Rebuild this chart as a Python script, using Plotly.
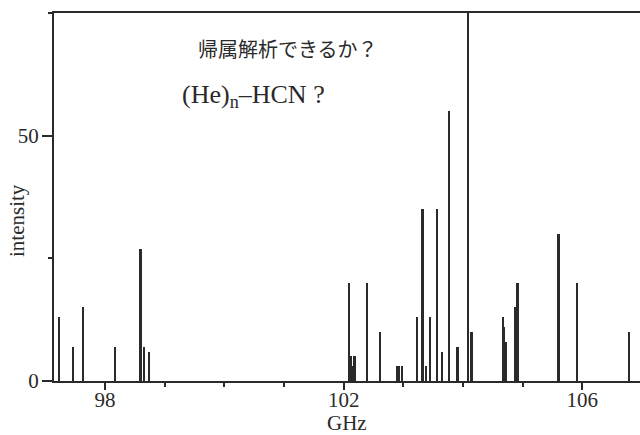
import plotly.graph_objects as go

freq_ghz = [97.234, 97.469, 97.636, 98.168, 98.598, 98.654, 98.743,
            102.095, 102.123, 102.152, 102.185, 102.397, 102.615,
            102.906, 102.928, 102.983,
            103.238, 103.325, 103.380, 103.456, 103.570, 103.649, 103.771, 103.912,
            104.085, 104.146,
            104.676, 104.696, 104.716, 104.884, 104.918,
            105.605, 105.917, 106.789]
intensity = [13, 7, 15, 7, 27, 7, 6,
             20, 5, 3, 5, 20, 10,
             3, 3, 3,
             13, 35, 3, 13, 35, 6, 55, 7,
             100, 10,
             13, 11, 8, 15, 20,
             30, 20, 10]

x_major_ticks = [98, 102, 106]
y_major_ticks = [0, 50]

title_jp = "帰属解析できるか？"
title_mol = "(He)<sub>n</sub>–HCN ?"
x_label = "GHz"
y_label = "intensity"

ink = "#2a2a2a"
serif = "Liberation Serif, Times New Roman, serif"

fig = go.Figure()
fig.add_trace(go.Bar(x=freq_ghz, y=intensity, width=0.032,
                     marker=dict(color=ink, line=dict(width=0))))

fig.update_layout(
    width=640, height=435,
    margin=dict(l=54, r=0, t=13, b=54),
    paper_bgcolor="white", plot_bgcolor="white",
    showlegend=False,
    bargap=0,
    font=dict(family=serif, color=ink, size=20),
)
fig.update_xaxes(
    range=[97.145, 106.967],
    tickvals=x_major_ticks, ticktext=[str(v) for v in x_major_ticks],
    ticks="outside", ticklen=7, tickwidth=2, tickcolor=ink,
    minor=dict(dtick=1, tick0=98, ticks="outside", ticklen=4, tickwidth=2, tickcolor=ink, showgrid=False),
    showline=True, linecolor=ink, linewidth=2, mirror=True,
    showgrid=False, zeroline=False,
    tickfont=dict(family=serif, size=21, color=ink),
    ticklabelstandoff=-8,
    automargin=False,
)
fig.update_yaxes(
    range=[0, 75],
    tickvals=y_major_ticks, ticktext=[str(v) for v in y_major_ticks],
    ticks="outside", ticklen=10, tickwidth=2, tickcolor=ink,
    minor=dict(dtick=25, tick0=0, ticks="outside", ticklen=4, tickwidth=2, tickcolor=ink, showgrid=False),
    showline=True, linecolor=ink, linewidth=2, mirror=False,
    showgrid=False, zeroline=False,
    tickfont=dict(family=serif, size=21, color=ink),
    ticklabelstandoff=-1,
    automargin=False,
)

# annotations placed in pixel coordinates (converted to paper coords below)
fig.add_annotation(text=title_jp, x=288, y=48, xanchor="center", yanchor="middle",
                   font=dict(family="Noto Sans CJK JP", size=20, color=ink))
fig.add_annotation(text=title_mol, x=180, y=96, xanchor="left", yanchor="middle",
                   font=dict(family=serif, size=26, color=ink))
fig.add_annotation(text=x_label, x=347, y=423, xanchor="center", yanchor="middle",
                   font=dict(family=serif, size=21, color=ink))
fig.add_annotation(text=y_label, x=17, y=221, xanchor="center", yanchor="middle",
                   textangle=-90, font=dict(family=serif, size=21, color=ink))

plot_w = 640 - 54
plot_h = 435 - 13 - 54
for ann in fig.layout.annotations:
    ann.xref = "paper"
    ann.yref = "paper"
    ann.showarrow = False
    ann.x = (ann.x - 54) / plot_w
    ann.y = 1 - (ann.y - 13) / plot_h

fig.write_html("out.html")
